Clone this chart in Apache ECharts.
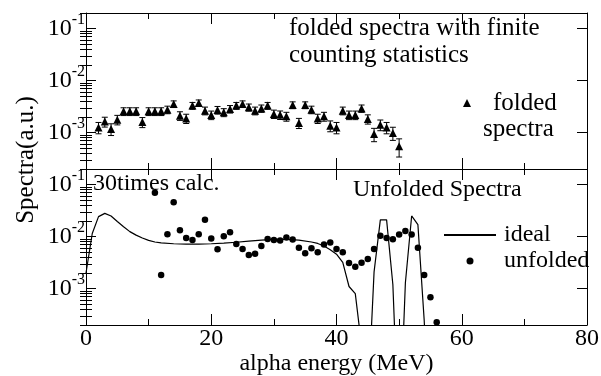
<!DOCTYPE html>
<html>
<head>
<meta charset="utf-8">
<script src="https://cdn.jsdelivr.net/npm/echarts@6/dist/echarts.min.js"></script>
<style>
  html, body { margin: 0; padding: 0; background: #fff; }
  #chart { width: 601px; height: 376px; }
</style>
</head>
<body>
<div id="chart"></div>
<script>
// folded spectra (top panel)
const foldedEnergy = [2, 3, 4, 5, 6, 7, 8, 9, 10, 11, 12, 13, 14, 15, 16, 17, 18, 19, 20, 21, 22, 23, 24, 25, 26,
  27, 28, 29, 30, 31, 32, 33, 34, 35, 36, 37, 38, 39, 40, 41, 42, 43, 44, 45, 46, 47, 48, 49, 50];
const foldedValue = [1.26e-3, 1.63e-3, 1.18e-3, 1.78e-3, 2.57e-3, 2.57e-3, 2.57e-3, 1.6e-3, 2.57e-3, 2.57e-3,
  2.57e-3, 2.77e-3, 3.56e-3, 2.12e-3, 1.88e-3, 3.31e-3, 3.72e-3, 2.65e-3, 2.19e-3, 2.73e-3,
  2.46e-3, 2.85e-3, 3.31e-3, 3.56e-3, 3.07e-3, 2.65e-3, 2.93e-3, 3.31e-3, 2.29e-3, 2.2e-3,
  2.06e-3, 3.4e-3, 1.54e-3, 3.4e-3, 2.77e-3, 1.88e-3, 2.06e-3, 1.36e-3, 1.26e-3, 2.65e-3,
  2.19e-3, 2.19e-3, 2.93e-3, 1.83e-3, 9.4e-4, 1.42e-3, 1.26e-3, 9.9e-4, 5.5e-4];
const foldedError = [3.1e-4, 3.5e-4, 3.0e-4, 3.7e-4, 4.4e-4, 4.4e-4, 4.4e-4, 3.5e-4, 4.4e-4, 4.4e-4,
  4.4e-4, 4.6e-4, 5.2e-4, 4.0e-4, 3.8e-4, 5.0e-4, 5.3e-4, 4.5e-4, 4.1e-4, 4.6e-4,
  4.3e-4, 4.7e-4, 5.0e-4, 5.2e-4, 4.8e-4, 4.5e-4, 4.7e-4, 5.0e-4, 4.2e-4, 4.1e-4,
  4.0e-4, 5.1e-4, 3.4e-4, 5.1e-4, 4.6e-4, 3.8e-4, 4.0e-4, 3.2e-4, 3.1e-4, 4.5e-4,
  4.1e-4, 4.1e-4, 4.7e-4, 3.7e-4, 2.7e-4, 3.3e-4, 3.1e-4, 2.8e-4, 2.1e-4];

// unfolded points (bottom panel)
const unfoldedEnergy = [11, 12, 13, 14, 15, 16, 17, 18, 19, 20, 21, 22, 23, 24, 25, 26, 27, 28, 29, 30, 31, 32, 33,
  34, 35, 36, 37, 38, 39, 40, 41, 42, 43, 44, 45, 46, 47, 48, 49, 50, 51, 52, 53, 54, 55, 56];
const unfoldedValue = [0.070, 1.83e-3, 1.11e-2, 0.046, 1.33e-2, 9.4e-3, 8.6e-3, 1.11e-2, 0.0212, 9.2e-3,
  5.7e-3, 1.02e-2, 1.22e-2, 7.2e-3, 5.8e-3, 4.45e-3, 4.7e-3, 6.6e-3, 9.0e-3, 8.6e-3,
  8.4e-3, 9.6e-3, 8.8e-3, 6.1e-3, 4.8e-3, 6.0e-3, 5.0e-3, 7.1e-3, 7.7e-3, 5.8e-3,
  5.0e-3, 3.1e-3, 2.65e-3, 3.16e-3, 3.7e-3, 5.8e-3, 1.04e-2, 9.4e-3, 8.9e-3, 1.1e-2,
  1.29e-2, 1.1e-2, 6.1e-3, 1.83e-3, 6.8e-4, 2.26e-4];

// ideal spectrum (solid line); values far below the axis are where it drops out
const idealEnergy = [0, 1, 2, 3, 4, 5, 6, 7, 8, 9, 10, 11, 12, 14, 16, 18, 20, 22, 24, 26, 28, 30, 32, 34, 36,
  37, 38, 39, 40, 41, 42, 43, 44, 45, 46, 47, 48, 49, 50, 51, 52, 53, 54, 55];
const idealValue = [2.0e-3, 1.15e-2, 0.0243, 0.028, 0.025, 0.0195, 0.0155, 0.0125, 0.0107, 0.0094, 0.0085,
  0.0079, 0.0076, 0.0073, 0.0072, 0.0072, 0.0073, 0.0075, 0.0078, 0.0082, 0.0086, 0.0089, 0.0089,
  0.0086, 0.0079, 0.0074, 0.0066, 0.0056, 0.0046, 0.0032, 0.0011, 0.0008, 8e-5, 6e-6, 2.1e-3,
  0.021, 0.021, 1.2e-3, 1e-6, 1.3e-3, 0.025, 0.017, 2.5e-4, 1e-6];

const Y_MIN = 2e-4;
const Y_MAX = 0.2;
const FONT = '"Liberation Serif", "Times New Roman", serif';

// minor ticks 2..9 x 10^n, in log10 units for the helper axes
const minorTicks = [];
[-4, -3, -2, -1].forEach(n => {
  for (let k = 2; k <= 9; k++) {
    const v = k * Math.pow(10, n);
    if (v > Y_MIN * 0.999 && v < Y_MAX * 1.001) minorTicks.push(Math.log10(v));
  }
});

const decadeLabel = v => {
  const e = Math.log10(v);
  const n = Math.round(e);
  if (Math.abs(e - n) > 1e-6) return '';
  return '{b|10}{s|' + n + '}';
};

function xAxisFor(grid, position, labels) {
  return {
    type: 'value', gridIndex: grid, position: position, min: 0, max: 80, interval: 20,
    axisLine: { show: true, onZero: false, lineStyle: { color: '#000', width: 1 } },
    axisTick: { show: true, inside: true, length: 11, lineStyle: { color: '#000', width: 1 } },
    minorTick: { show: true, splitNumber: 2, length: 6, lineStyle: { color: '#000', width: 1 } },
    splitLine: { show: false },
    minorSplitLine: { show: false },
    axisLabel: { show: labels, color: '#000', fontFamily: FONT, fontSize: 24, margin: 2 },
    name: labels ? 'alpha energy (MeV)' : '',
    nameLocation: 'middle',
    nameGap: 22,
    nameTextStyle: { color: '#000', fontFamily: FONT, fontSize: 24 }
  };
}

function yLogFor(grid, position, labels) {
  return {
    type: 'log', logBase: 10, gridIndex: grid, position: position, min: Y_MIN, max: Y_MAX,
    axisLine: { show: true, onZero: false, lineStyle: { color: '#000', width: 1 } },
    axisTick: { show: true, inside: true, length: 10, lineStyle: { color: '#000', width: 1 } },
    splitLine: { show: false },
    axisLabel: {
      show: labels, margin: 1, formatter: decadeLabel,
      rich: {
        b: { fontFamily: FONT, fontSize: 24, color: '#000', lineHeight: 34 },
        s: { fontFamily: FONT, fontSize: 16, color: '#000', lineHeight: 16, verticalAlign: 'top' }
      }
    }
  };
}

function yMinorFor(grid, position) {
  return {
    type: 'value', gridIndex: grid, position: position,
    min: Math.log10(Y_MIN), max: Math.log10(Y_MAX),
    axisLine: { show: false },
    axisLabel: { show: false },
    splitLine: { show: false },
    axisTick: { show: true, inside: true, length: 6, customValues: minorTicks, lineStyle: { color: '#000', width: 1 } }
  };
}

const errorBars = foldedEnergy.map((e, i) => [e, foldedValue[i] - foldedError[i], foldedValue[i] + foldedError[i]]);

const chart = echarts.init(document.getElementById('chart'));
chart.setOption({
  animation: false,
  backgroundColor: '#fff',
  grid: [
    { left: 86, top: 13, width: 501, height: 156, outerBoundsMode: 'none' },
    { left: 86, top: 169, width: 501, height: 156, outerBoundsMode: 'none' }
  ],
  xAxis: [
    xAxisFor(0, 'bottom', false),
    xAxisFor(0, 'top', false),
    xAxisFor(1, 'bottom', true),
    xAxisFor(1, 'top', false)
  ],
  yAxis: [
    yLogFor(0, 'left', true),
    yLogFor(0, 'right', false),
    yMinorFor(0, 'left'),
    yMinorFor(0, 'right'),
    yLogFor(1, 'left', true),
    yLogFor(1, 'right', false),
    yMinorFor(1, 'left'),
    yMinorFor(1, 'right')
  ],
  legend: [
    {
      data: ['folded spectra'], orient: 'vertical', left: 463, top: 64,
      selectedMode: false, itemWidth: 8, itemHeight: 8, padding: 0,
      formatter: () => '{a|folded}\n{b|spectra}',
      textStyle: {
        color: '#000', fontFamily: FONT, fontSize: 25, lineHeight: 26, padding: [26, 0, 0, 0],
        rich: {
          a: { fontFamily: FONT, fontSize: 25, lineHeight: 26, color: '#000', padding: [0, 0, 0, 17] },
          b: { fontFamily: FONT, fontSize: 25, lineHeight: 26, color: '#000', padding: [0, 0, 0, 7] }
        }
      }
    },
    {
      data: [
        { name: 'ideal', itemStyle: { color: 'transparent', borderWidth: 0 } },
        'unfolded'
      ],
      orient: 'vertical', left: 443, top: 223,
      selectedMode: false, itemWidth: 52, itemHeight: 7, itemGap: 2, padding: 0,
      textStyle: { color: '#000', fontFamily: FONT, fontSize: 24, lineHeight: 24, padding: [0, 0, 0, 3] }
    }
  ],
  graphic: [
    {
      type: 'text', left: 289, top: 15, silent: true,
      style: { text: 'folded spectra with finite\ncounting statistics', font: '25px ' + FONT, fill: '#000', lineHeight: 27 }
    },
    {
      type: 'text', x: 93, y: 183.6, silent: true,
      style: { text: '30times calc.', font: '24px ' + FONT, fill: '#000', verticalAlign: 'middle' }
    },
    {
      type: 'text', x: 353, y: 190, silent: true,
      style: { text: 'Unfolded Spectra', font: '24px ' + FONT, fill: '#000', verticalAlign: 'middle' }
    },
    {
      type: 'text', x: 26, y: 160, rotation: Math.PI / 2, silent: true,
      style: { text: 'Spectra(a.u.)', font: '25px ' + FONT, fill: '#000', align: 'center', verticalAlign: 'middle' }
    }
  ],
  series: [
    {
      type: 'custom', name: 'errors', xAxisIndex: 0, yAxisIndex: 0, silent: true,
      encode: { x: 0, y: [1, 2] },
      data: errorBars,
      renderItem: (params, api) => {
        const top = api.coord([api.value(0), api.value(2)]);
        const bot = api.coord([api.value(0), api.value(1)]);
        const w = 3;
        const st = { stroke: '#000', lineWidth: 1 };
        return {
          type: 'group',
          children: [
            { type: 'line', shape: { x1: top[0], y1: top[1], x2: bot[0], y2: bot[1] }, style: st },
            { type: 'line', shape: { x1: top[0] - w, y1: top[1], x2: top[0] + w, y2: top[1] }, style: st },
            { type: 'line', shape: { x1: bot[0] - w, y1: bot[1], x2: bot[0] + w, y2: bot[1] }, style: st }
          ]
        };
      }
    },
    {
      type: 'scatter', name: 'folded spectra', xAxisIndex: 0, yAxisIndex: 0,
      symbol: 'triangle', symbolSize: 8, silent: true,
      itemStyle: { color: '#000', opacity: 1 },
      data: foldedEnergy.map((e, i) => [e, foldedValue[i]])
    },
    {
      type: 'line', name: 'ideal', xAxisIndex: 2, yAxisIndex: 4,
      symbol: 'none', showSymbol: false, clip: true, silent: true,
      lineStyle: { color: '#000', width: 1.2 },
      itemStyle: { color: '#000' },
      data: idealEnergy.map((e, i) => [e, idealValue[i]])
    },
    {
      type: 'scatter', name: 'unfolded', xAxisIndex: 2, yAxisIndex: 4,
      symbol: 'circle', symbolSize: 6.5, silent: true,
      itemStyle: { color: '#000', opacity: 1 },
      data: unfoldedEnergy.map((e, i) => [e, unfoldedValue[i]])
    }
  ]
});
</script>
</body>
</html>
